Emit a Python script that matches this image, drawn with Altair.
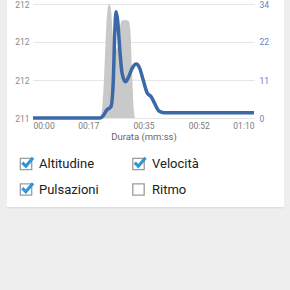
import altair as alt
import pandas as pd

# ---- data ----
alt_time = [0, 21.0, 21.8, 22.5, 23.2, 23.8, 24.2, 24.7, 25.3, 26.0, 26.8, 27.4, 28.0, 29.0, 30.3, 30.8, 31.4, 31.9, 32.4, 70]
alt_value = [211.0, 211.0, 211.06, 211.35, 211.8, 211.98, 212.0, 211.95, 211.72, 211.6, 211.62, 211.76, 211.85, 211.86, 211.85, 211.78, 211.4, 211.08, 211.0, 211.0]

vel_time = [0, 21.3, 22.4, 23.4, 24.7, 25.4, 25.9, 26.3, 26.8, 27.5, 28.2, 29.3, 30.3, 31.4, 32.7, 33.8, 34.9, 36.2, 37.4, 38.5, 39.9, 41.5, 70]
vel_value = [0, 0, 0.9, 2.4, 3.4, 10.4, 25.3, 31.7, 29.2, 20.3, 13.4, 10.8, 12.3, 14.8, 16.1, 14.8, 11.3, 7.4, 6.4, 4.4, 2.1, 1.6, 1.6]

x_tick_values = [0, 17.5, 35, 52.5, 70]
x_tick_labels = ["00:00", "00:17", "00:35", "00:52", "01:10"]
left_tick_values = [211, 211.333, 211.667, 212]
left_tick_labels = ["211", "212", "212", "212"]
right_tick_values = [0, 11.333, 22.667, 34]
right_tick_labels = ["0", "11", "22", "34"]

legend_labels = ["Altitudine", "Velocità", "Pulsazioni", "Ritmo"]
legend_checked = [True, True, True, False]

FONT = "Roboto"
W, H = 221, 114

alt_df = pd.DataFrame({"t": alt_time, "v": alt_value})
vel_df = pd.DataFrame({"t": vel_time, "v": vel_value})
one = pd.DataFrame({"a": [0]})

x_enc = alt.X(
    "t:Q",
    scale=alt.Scale(domain=[0, 70], nice=False, zero=False),
    axis=alt.Axis(
        values=x_tick_values,
        labelExpr=f"{x_tick_labels}[indexof({x_tick_values}, datum.value)]",
        title="Durata (mm:ss)",
        titleFont=FONT, titleFontSize=9.5, titleFontWeight="normal", titleColor="#666666",
        titlePadding=2,
        labelFont=FONT, labelFontSize=8.5, labelColor="#7a7a7a", labelPadding=3,
        labelFlush=True, ticks=False, domain=False, grid=False,
    ),
)

area = alt.Chart(alt_df).mark_area(color="#c9c9c9", interpolate="monotone", opacity=1).encode(
    x=x_enc,
    y=alt.Y(
        "v:Q",
        scale=alt.Scale(domain=[211, 212], zero=False, nice=False),
        axis=alt.Axis(
            orient="left", values=left_tick_values,
            labelExpr=f"{left_tick_labels}[indexof({left_tick_values}, datum.value)]",
            title=None, labelFont=FONT, labelFontSize=8.5, labelColor="#8a8a8a",
            labelPadding=4, ticks=False, domain=False, grid=True,
            gridColor="#e6e6e6", gridWidth=1,
        ),
    ),
    y2=alt.datum(211),
)

line = alt.Chart(vel_df).mark_line(color="#3b68a6", strokeWidth=3.5, interpolate="monotone").encode(
    x=alt.X("t:Q", scale=alt.Scale(domain=[0, 70], nice=False, zero=False)),
    y=alt.Y(
        "v:Q",
        scale=alt.Scale(domain=[0, 34], nice=False),
        axis=alt.Axis(
            orient="right", values=right_tick_values,
            labelExpr=f"{right_tick_labels}[indexof({right_tick_values}, datum.value)]",
            title=None, labelFont=FONT, labelFontSize=8.5, labelColor="#5f83ba",
            labelPadding=5, ticks=False, domain=False, grid=False,
        ),
    ),
)

data_layer = alt.layer(area, line).resolve_scale(y="independent")

# ---- page decoration (grey surround of the white card) ----
BG = "#eeeeee"
def rect(x1, x2, y1, y2, color):
    return alt.Chart(one).mark_rect(color=color, opacity=1).encode(
        x=alt.value(x1), x2=alt.value(x2), y=alt.value(y1), y2=alt.value(y2)
    )

deco = [
    rect(-33, -26, -4, 286, BG),
    rect(251, 257, -4, 286, BG),
    rect(-33, 257, 203, 286, BG),
    rect(-26, 251, 203, 204.5, "#e0e0e0"),
]

# ---- checkbox legend ----
col_box_x = [-7, 105.5]
col_text_x = [6, 119]
row_box_y = [160, 185.5]
row_text_y = [164.3, 190]

legend_layers = []
for i, (lab, chk) in enumerate(zip(legend_labels, legend_checked)):
    c, r = i % 2, i // 2
    legend_layers.append(
        alt.Chart(one).mark_square(size=130, fill="white", stroke="#9c9c9c", strokeWidth=1.3, opacity=1).encode(
            x=alt.value(col_box_x[c]), y=alt.value(row_box_y[r])
        )
    )
    if chk:
        legend_layers.append(
            alt.Chart(one).mark_point(
                shape="M-0.8,-0.05 L-0.25,0.5 L0.85,-0.8", filled=False, stroke="#3196d6",
                strokeWidth=3.2, size=170, opacity=1,
            ).encode(x=alt.value(col_box_x[c] + 1.5), y=alt.value(row_box_y[r] - 1))
        )
    legend_layers.append(
        alt.Chart(one).mark_text(
            text=lab, font=FONT, fontSize=13, color="#222222", align="left", baseline="alphabetic"
        ).encode(x=alt.value(col_text_x[c]), y=alt.value(row_text_y[r]))
    )

chart = alt.layer(*deco, data_layer, *legend_layers).properties(
    width=W, height=H,
    autosize=alt.AutoSizeParams(type="none"),
    padding={"left": 33, "top": 4, "right": 290 - 33 - W, "bottom": 290 - 4 - H},
    background="white",
).configure_view(stroke=None)

chart.save("out.html", embed_options={"renderer": "svg", "actions": False})
